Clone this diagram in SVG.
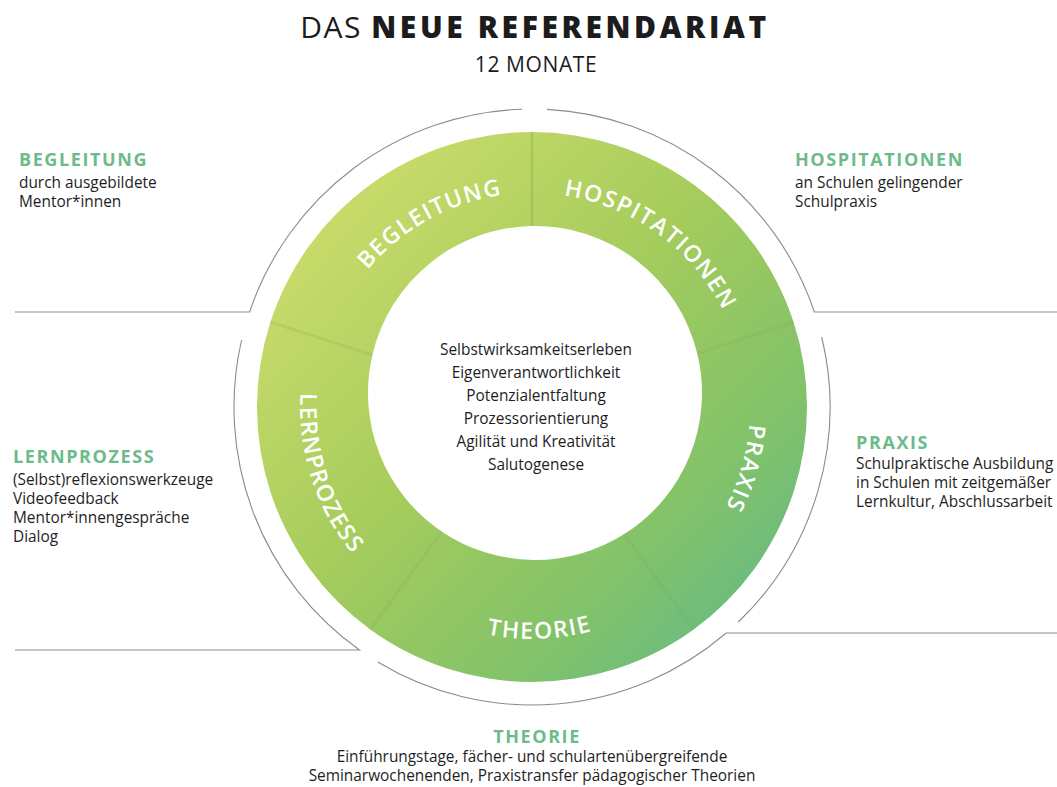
<svg xmlns="http://www.w3.org/2000/svg" width="1057" height="787" viewBox="0 0 1057 787">
<style>
.title{font-family:"Open Sans","Liberation Sans",sans-serif;fill:#1c1c1c}
.head{font-family:"Open Sans","Liberation Sans",sans-serif;font-weight:700;font-size:18px;letter-spacing:1.6px;fill:#6dba8a}
.body{font-family:"Open Sans","Liberation Sans",sans-serif;font-size:15.4px;fill:#1e1e1e}
.center{font-family:"Open Sans","Liberation Sans",sans-serif;font-size:15.4px;fill:#1e1e1e;text-anchor:middle}
.ring{font-family:"Open Sans","Liberation Sans",sans-serif;font-size:23px;font-weight:600;letter-spacing:1.6px;fill:#ffffff;text-anchor:middle}
.seg{fill:url(#g)}
.div{stroke:#4f7f2a;stroke-opacity:0.16;stroke-width:2.5;fill:none}
.con{stroke:#8c8c8c;stroke-width:1.1;fill:none}
</style>
<defs>
<linearGradient id="g" gradientUnits="userSpaceOnUse" x1="280" y1="170" x2="780" y2="660">
<stop offset="0" stop-color="#d2df6e"/>
<stop offset="0.45" stop-color="#a5cc5c"/>
<stop offset="0.75" stop-color="#82c26a"/>
<stop offset="1" stop-color="#5fb98a"/>
</linearGradient>
<path id="pBeg" d="M318.03,403.27 A214,214 0 0 1 642.2,223.6"/>
<path id="pHos" d="M445.0,211.5 A214,214 0 0 1 744.8,429.4"/>
<path id="pPra" d="M688.8,255.6 A218,218 0 0 1 584.7,618.5"/>
<path id="pThe" d="M335.3,529.9 A232,232 0 0 0 736.8,515.9"/>
<path id="pLer" d="M359.6,251.8 A232,232 0 0 0 483.8,633.9"/>
</defs>
<rect width="1057" height="787" fill="#ffffff"/>

<g id="title">
<text class="title" x="535" y="38" text-anchor="middle" font-size="30"><tspan letter-spacing="1.5">DAS </tspan><tspan font-weight="800" letter-spacing="3.6">NEUE REFERENDARIAT</tspan></text>
<text class="title" x="536" y="72" text-anchor="middle" font-size="21" letter-spacing="0.6">12 MONATE</text>
</g>

<g id="connectors">
<path class="con" d="M15,312 L249.6,312 A298,298 0 0 1 522,109.2"/>
<path class="con" d="M547,109.4 A298,298 0 0 1 814.4,312 L1057,312"/>
<path class="con" d="M241.6,340 A298,298 0 0 0 359.5,650 L15,650"/>
<path class="con" d="M821.7,337 A298,298 0 0 1 738.3,622"/>
<path class="con" d="M377.8,662 A298,298 0 0 0 726.2,633 L1057,633"/>
</g>

<g id="node-begleitung">
<path class="seg" d="M270.45,322.02 A275,275 0 0 1 532,132 L532,226 A167,167 0 0 0 372.35,355.13 Z"/>
<text class="ring"><textPath href="#pBeg" startOffset="50%">BEGLEITUNG</textPath></text>
<text class="head" x="19" y="166">BEGLEITUNG</text>
<text class="body" x="19" y="188">durch ausgebildete</text>
<text class="body" x="19" y="207">Mentor*innen</text>
</g>

<g id="node-hospitationen">
<path class="seg" d="M532,132 A275,275 0 0 1 793.55,322.02 L697.22,353.32 A167,167 0 0 0 532,226 Z"/>
<text class="ring"><textPath href="#pHos" startOffset="50%">HOSPITATIONEN</textPath></text>
<text class="head" x="795" y="166">HOSPITATIONEN</text>
<text class="body" x="795" y="188">an Schulen gelingender</text>
<text class="body" x="795" y="207">Schulpraxis</text>
</g>

<g id="node-praxis">
<path class="seg" d="M793.55,322.02 A275,275 0 0 1 693.65,629.48 L624.34,534.09 A167,167 0 0 0 697.22,353.32 Z"/>
<text class="ring"><textPath href="#pPra" startOffset="50%">PRAXIS</textPath></text>
<text class="head" x="856" y="449">PRAXIS</text>
<text class="body" x="856" y="469">Schulpraktische Ausbildung</text>
<text class="body" x="856" y="488">in Schulen mit zeitgemäßer</text>
<text class="body" x="856" y="507">Lernkultur, Abschlussarbeit</text>
</g>

<g id="node-theorie">
<path class="seg" d="M693.65,629.48 A275,275 0 0 1 370.35,629.48 L441.59,531.43 A167,167 0 0 0 624.34,534.09 Z"/>
<text class="ring"><textPath href="#pThe" startOffset="50%">THEORIE</textPath></text>
<text class="head" x="537" y="743" text-anchor="middle">THEORIE</text>
<text class="center" x="532" y="762">Einführungstage, fächer- und schulartenübergreifende</text>
<text class="center" x="532" y="781">Seminarwochenenden, Praxistransfer pädagogischer Theorien</text>
</g>

<g id="node-lernprozess">
<path class="seg" d="M370.35,629.48 A275,275 0 0 1 270.45,322.02 L372.35,355.13 A167,167 0 0 0 441.59,531.43 Z"/>
<text class="ring"><textPath href="#pLer" startOffset="50%">LERNPROZESS</textPath></text>
<text class="head" x="13" y="463">LERNPROZESS</text>
<text class="body" x="13" y="485">(Selbst)reflexionswerkzeuge</text>
<text class="body" x="13" y="504">Videofeedback</text>
<text class="body" x="13" y="523">Mentor*innengespräche</text>
<text class="body" x="13" y="542">Dialog</text>
</g>

<g id="dividers">
<line class="div" x1="532" y1="132" x2="532" y2="226"/>
<line class="div" x1="270.45" y1="322.02" x2="372.35" y2="355.13"/>
<line class="div" x1="370.35" y1="629.48" x2="441.59" y2="531.43"/>
<line class="div" x1="693.65" y1="629.48" x2="624.34" y2="534.09"/>
<line class="div" x1="793.55" y1="322.02" x2="697.22" y2="353.32"/>
</g>

<g id="node-center">
<text class="center" x="536" y="355">Selbstwirksamkeitserleben</text>
<text class="center" x="536" y="378">Eigenverantwortlichkeit</text>
<text class="center" x="536" y="401">Potenzialentfaltung</text>
<text class="center" x="536" y="424">Prozessorientierung</text>
<text class="center" x="536" y="447">Agilität und Kreativität</text>
<text class="center" x="536" y="470">Salutogenese</text>
</g>
</svg>
